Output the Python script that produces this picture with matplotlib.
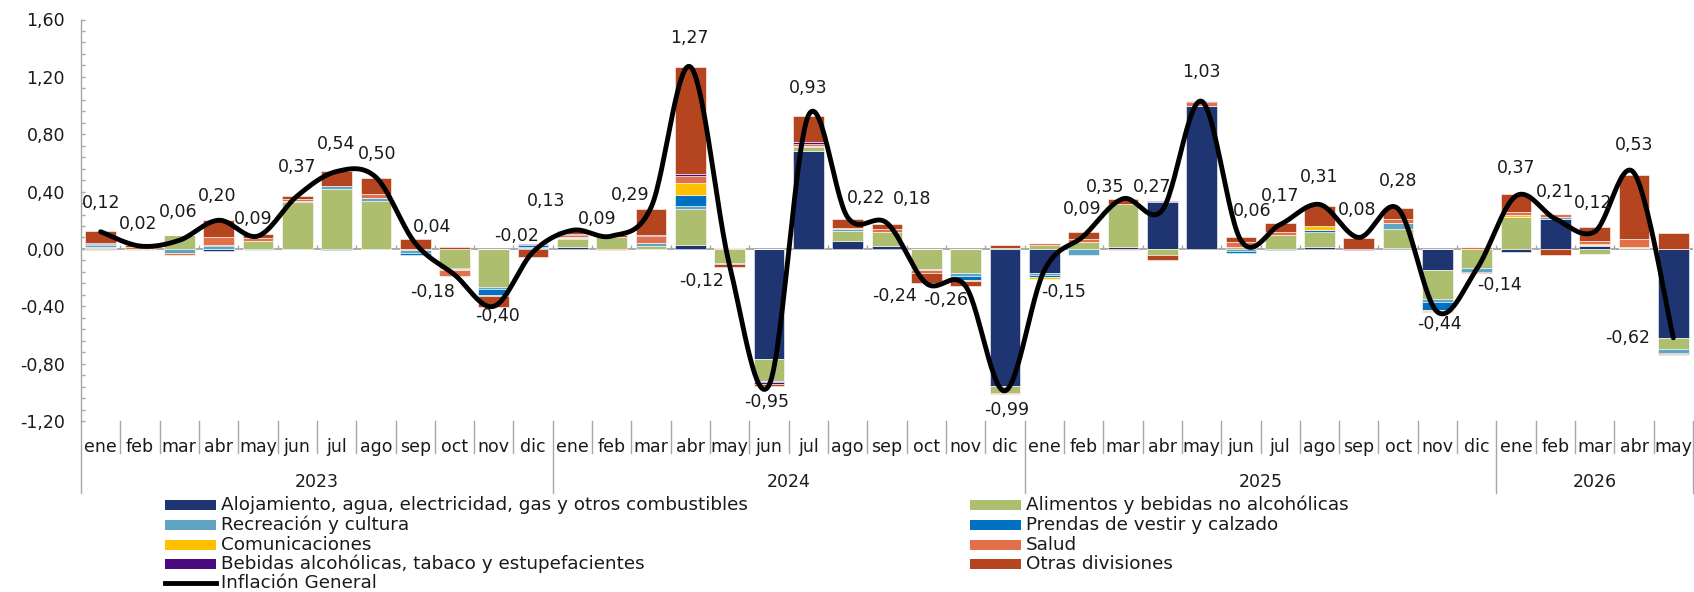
import numpy as np
import matplotlib
matplotlib.use('Agg')
import matplotlib.pyplot as plt
from matplotlib.transforms import blended_transform_factory
from matplotlib.lines import Line2D
from matplotlib.patches import Rectangle
from matplotlib.ticker import MultipleLocator, FuncFormatter

# ---------------- data ----------------
months = ['ene', 'feb', 'mar', 'abr', 'may', 'jun', 'jul', 'ago', 'sep', 'oct', 'nov', 'dic'] * 3 + \
         ['ene', 'feb', 'mar', 'abr', 'may']
years = ['2023', '2024', '2025', '2026']
year_counts = [12, 12, 12, 5]

inflacion = [0.12, 0.02, 0.06, 0.20, 0.09, 0.37, 0.54, 0.50, 0.04, -0.18, -0.40, -0.02,
             0.13, 0.09, 0.29, 1.27, -0.12, -0.95, 0.93, 0.22, 0.18, -0.24, -0.26, -0.99,
             -0.15, 0.09, 0.35, 0.27, 1.03, 0.06, 0.17, 0.31, 0.08, 0.28, -0.44, -0.14,
             0.37, 0.21, 0.12, 0.53, -0.62]

alojamiento = [0.005, 0, 0, -0.015, 0, 0, -0.01, 0, 0, 0, 0, 0.005,
               0.01, 0, 0, 0.03, 0, -0.765, 0.68, 0.055, 0.02, 0, 0, -0.955,
               -0.17, 0, 0.015, 0.33, 1.0, 0, -0.005, 0.01, 0, 0.007, -0.146, 0,
               -0.018, 0.21, 0.018, 0.005, -0.62]
alimentos = [0.01, -0.01, 0.10, 0.0, 0.055, 0.33, 0.42, 0.335, -0.01, -0.13, -0.265, 0.0,
             0.06, 0.08, 0.02, 0.25, -0.10, -0.155, 0.03, 0.07, 0.10, -0.137, -0.165, -0.05,
             0.03, 0.045, 0.30, -0.04, 0, 0.015, 0.095, 0.11, 0, 0.135, -0.204, -0.13,
             0.22, 0, -0.037, 0, -0.077]
recreacion = [0.01, 0, -0.025, 0.02, -0.01, 0.005, 0.02, 0.02, -0.02, -0.005, -0.016, 0.01,
              0.005, 0, 0.02, 0.02, -0.005, -0.01, 0.01, 0.012, 0, -0.008, -0.023, 0.005,
              -0.012, -0.04, 0, 0, 0, -0.015, 0, 0, 0, 0.037, -0.023, -0.028,
              0, 0.012, 0.01, 0, -0.028]
prendas = [0.01, 0, 0, 0.005, 0, 0, 0, 0, -0.01, -0.005, -0.04, 0.01,
           0, 0, 0, 0.075, 0, 0, 0, 0, 0, -0.005, -0.03, 0,
           -0.015, 0, 0, 0, 0, -0.01, 0, 0.01, 0, 0, -0.053, 0,
           0, 0, 0, 0, -0.005]
comunicaciones = [0, 0, 0, 0.005, 0, 0, 0, 0, 0, -0.005, 0, 0,
                  0.005, 0, 0, 0.085, 0, 0, 0, 0, 0, 0, 0, 0,
                  -0.01, 0, 0, 0, 0, 0, 0, 0.03, 0, 0, -0.008, 0,
                  0.019, 0, 0.008, 0.008, 0]
salud = [-0.01, 0.01, -0.02, 0.05, 0.02, 0.01, 0, 0.03, 0, -0.045, -0.005, 0.005,
         0.02, -0.01, 0.05, 0.05, 0.005, 0, 0.015, 0.012, 0.02, -0.015, -0.008, -0.01,
         0.01, 0.025, -0.005, 0, 0.025, 0.03, 0.02, 0, 0, 0.03, -0.007, 0.014,
         0.016, 0.02, 0.018, 0.056, -0.012]
bebidas = [0.008, 0, 0, 0.005, 0, 0.005, 0, 0, 0, 0, 0, 0.005,
           0.005, 0, 0.007, 0.01, 0, -0.01, 0.01, 0, 0, 0, 0, 0,
           0, 0, 0, 0.007, 0.01, 0, 0, 0, -0.004, 0, 0, 0,
           0, 0, 0, 0, 0]
otras = [0.08, 0.02, 0, 0.12, 0.03, 0.02, 0.10, 0.11, 0.07, 0.01, -0.08, -0.055,
         0.02, 0.02, 0.18, 0.747, -0.02, -0.015, 0.18, 0.063, 0.037, -0.075, -0.035, 0.025,
         0, 0.05, 0.03, -0.035, 0, 0.035, 0.065, 0.14, 0.077, 0.075, 0, -0.007,
         0.128, -0.044, 0.1, 0.448, 0.11]

series_names = ['Alojamiento, agua, electricidad, gas y otros combustibles',
                'Alimentos y bebidas no alcohólicas',
                'Recreación y cultura',
                'Prendas de vestir y calzado',
                'Comunicaciones',
                'Salud',
                'Bebidas alcohólicas, tabaco y estupefacientes',
                'Otras divisiones']
series_values = [alojamiento, alimentos, recreacion, prendas, comunicaciones, salud, bebidas, otras]
line_name = 'Inflación General'

# ---------------- styling ----------------
colors = ['#1F3572', '#ADBF6E', '#5FA4C2', '#0070C0', '#FFC000', '#E2704A', '#4B0B80', '#B5451F']
# data-label offsets in pixels (dx, dy screen-down)
label_offsets = [(0, -29), (-2, -22), (-1, -28), (-1, -24), (-5, -17), (0, -29), (0, -27), (1, -23),
                 (17, -16), (-22, 17), (4, 10), (-17, -16),
                 (-26, -29), (-15, -17), (-21, -12), (-1, -29), (-28, 15), (-2, 17), (0, -28), (18, -19),
                 (25, -24), (-32, 13), (-20, 14), (2, 19),
                 (19, 22), (-1, -27), (-18, -12), (-10, -23), (0, -29), (11, -29), (0, -29), (0, -27),
                 (-2, -27), (0, -28), (2, 12), (23, 16),
                 (0, -28), (0, -27), (-2, -29), (0, -28), (-46, 0)]

plt.rcParams['font.family'] = ['DejaVu Sans']
text_color = '#1a1a1a'
grid_gray = '#A6A6A6'
FS = 12.5
LEG_FS = 13.2

W, H = 1694, 592
fig = plt.figure(figsize=(W / 100, H / 100), dpi=100)
ax_left, ax_right, ax_top, ax_bottom = 81, 1693, 19.5, 421
ax = fig.add_axes([ax_left / W, 1 - ax_bottom / H, (ax_right - ax_left) / W, (ax_bottom - ax_top) / H])
ax_h_px = ax_bottom - ax_top

n = len(months)
x = np.arange(n)

# stacked bars
pos_base = np.zeros(n)
neg_base = np.zeros(n)
for name, vals, col in zip(series_names, series_values, colors):
    v = np.array(vals, dtype=float)
    bottoms = np.where(v >= 0, pos_base, neg_base)
    ax.bar(x, v, bottom=bottoms, width=0.78, color=col, edgecolor='white',
           linewidth=0.4, zorder=2)
    pos_base = pos_base + np.where(v > 0, v, 0)
    neg_base = neg_base + np.where(v < 0, v, 0)

# zero line with small ticks at category boundaries
ax.axhline(0, color=grid_gray, lw=1.3, zorder=1)
bounds = np.arange(n + 1) - 0.5
ax.vlines(bounds[1:], 0, 0.03, color=grid_gray, lw=1.0, zorder=1)

# smoothed line (Catmull-Rom / Bezier through the points)
yv = np.array(inflacion, dtype=float)
P = np.column_stack([x, yv])
Pext = np.vstack([P[0], P, P[-1]])
curve = []
tt = np.linspace(0, 1, 30)
for i in range(n - 1):
    p0, p1, p2, p3 = Pext[i], Pext[i + 1], Pext[i + 2], Pext[i + 3]
    c1 = p1 + (p2 - p0) / 6.0
    c2 = p2 - (p3 - p1) / 6.0
    seg = ((1 - tt) ** 3)[:, None] * p1 + (3 * (1 - tt) ** 2 * tt)[:, None] * c1 + \
          (3 * (1 - tt) * tt ** 2)[:, None] * c2 + (tt ** 3)[:, None] * p2
    curve.append(seg if i == 0 else seg[1:])
curve = np.vstack(curve)
ax.plot(curve[:, 0], curve[:, 1], color='black', lw=3.5, solid_capstyle='round', zorder=4)

# data labels
for i, v in enumerate(inflacion):
    dx, dy = label_offsets[i]
    ax.annotate(f"{v:.2f}".replace('.', ','), xy=(i, v), xytext=(dx, -dy),
                textcoords='offset pixels', ha='center', va='center',
                fontsize=FS, color=text_color, zorder=5)

# axes
ax.set_xlim(-0.5, n - 0.5)
ax.set_ylim(-1.2, 1.6)
ax.yaxis.set_major_locator(MultipleLocator(0.4))
ax.yaxis.set_minor_locator(MultipleLocator(0.08))
ax.yaxis.set_major_formatter(FuncFormatter(lambda v, p: f"{v:.2f}".replace('.', ',')))
ax.tick_params(axis='y', which='both', direction='in', length=3.1, width=1.0,
               color=grid_gray, labelsize=FS, labelcolor=text_color, pad=11.5)
ax.set_xticks([])
for s in ['top', 'right', 'bottom']:
    ax.spines[s].set_visible(False)
ax.spines['left'].set_color(grid_gray)
ax.spines['left'].set_linewidth(1.0)

# multi-level category axis
trans = blended_transform_factory(ax.transData, ax.transAxes)
month_sep = 32 / ax_h_px
year_sep = 72 / ax_h_px
year_starts = np.cumsum([0] + year_counts)
year_bounds = set((year_starts - 0.5).tolist())
for b in bounds:
    depth = year_sep if b in year_bounds else month_sep
    ax.add_line(Line2D([b, b], [0, -depth], transform=trans, color=grid_gray, lw=1.0, clip_on=False))
for i, m in enumerate(months):
    ax.annotate(m, xy=(i, 0), xycoords=trans, xytext=(0, -26), textcoords='offset pixels',
                ha='center', va='center', fontsize=FS, color=text_color)
for k, yr in enumerate(years):
    cx = (year_starts[k] + year_starts[k + 1] - 1) / 2
    ax.annotate(yr, xy=(cx, 0), xycoords=trans, xytext=(0, -61), textcoords='offset pixels',
                ha='center', va='center', fontsize=FS, color=text_color)

# legend, laid out row-wise in two columns (pixel layout)
row_y = [504.5, 524.5, 544.5, 564, 583]
col_x = [165, 970]
patch_w, patch_h, text_gap = 51, 10, 5
entries = [(series_names[i], colors[i], 'patch') for i in range(len(series_names))] + \
          [(line_name, 'black', 'line')]
for k, (lab, col, kind) in enumerate(entries):
    r, c = k // 2, k % 2
    x0 = col_x[c]
    yc = row_y[r]
    if kind == 'patch':
        fig.add_artist(Rectangle((x0 / W, 1 - (yc + patch_h / 2) / H), patch_w / W, patch_h / H,
                                 transform=fig.transFigure, facecolor=col, edgecolor='none'))
    else:
        fig.add_artist(Line2D([x0 / W, (x0 + patch_w) / W], [1 - yc / H, 1 - yc / H],
                              transform=fig.transFigure, color=col, lw=3.5))
    fig.text((x0 + patch_w + text_gap) / W, 1 - yc / H, lab, ha='left', va='center',
             fontsize=LEG_FS, color=text_color)

fig.savefig('out.png', dpi=100)
